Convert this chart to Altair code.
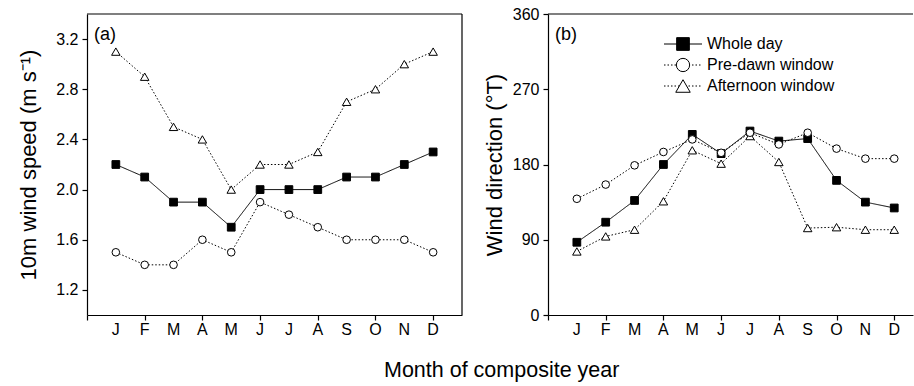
import altair as alt
import pandas as pd

months = list(range(1, 13))
month_letters = ["J", "F", "M", "A", "M", "J", "J", "A", "S", "O", "N", "D"]
series_names = ["Whole day", "Pre-dawn window", "Afternoon window"]
panel_labels = ["(a)", "(b)"]

speed_whole = [2.2, 2.1, 1.9, 1.9, 1.7, 2.0, 2.0, 2.0, 2.1, 2.1, 2.2, 2.3]
speed_predawn = [1.5, 1.4, 1.4, 1.6, 1.5, 1.9, 1.8, 1.7, 1.6, 1.6, 1.6, 1.5]
speed_afternoon = [3.1, 2.9, 2.5, 2.4, 2.0, 2.2, 2.2, 2.3, 2.7, 2.8, 3.0, 3.1]

dir_whole = [87, 111, 137, 180, 216, 193, 220, 208, 211, 161, 135, 128]
dir_predawn = [139, 156, 179, 195, 210, 194, 218, 204, 218, 199, 187, 187]
dir_afternoon = [76, 94, 102, 136, 197, 181, 214, 183, 104, 105, 102, 102]

speed_ticks = [1.2, 1.4, 1.6, 1.8, 2.0, 2.2, 2.4, 2.6, 2.8, 3.0, 3.2]
dir_ticks = [0, 45, 90, 135, 180, 225, 270, 315, 360]

FONT = "Liberation Sans"
PLOT_H = 301


def long_df(whole, predawn, afternoon):
    rows = []
    for name, vals in zip(series_names, [whole, predawn, afternoon]):
        for m, v in zip(months, vals):
            rows.append({"month": m, "series": name, "value": v})
    return pd.DataFrame(rows)


speed_df = long_df(speed_whole, speed_predawn, speed_afternoon)
dir_df = long_df(dir_whole, dir_predawn, dir_afternoon)
month_df = pd.DataFrame({"month": months, "letter": month_letters})

DOTTED = [1.5, 2]
point_styles = {
    "Whole day": dict(shape="square", fill="black", size=60, dash=[1, 0], lsize=161),
    "Pre-dawn window": dict(shape="circle", fill="white", size=58, dash=DOTTED, lsize=177),
    "Afternoon window": dict(shape="triangle-up", fill="white", size=72, dash=DOTTED, lsize=210),
}


def legend_layers():
    out = []
    for i, name in enumerate(series_names):
        st = point_styles[name]
        row = alt.Chart(pd.DataFrame({"series": [name]}))
        yy = 30 + 21 * i
        out.append(row.mark_rule(color="black", strokeWidth=1, strokeDash=st["dash"]).encode(
            x=alt.value(116), x2=alt.value(154), y=alt.value(yy)))
        out.append(row.mark_point(shape=st["shape"], fill=st["fill"], size=st["lsize"],
                                  stroke="black", strokeWidth=1, opacity=1, filled=True).encode(
            x=alt.value(135), y=alt.value(yy)))
        out.append(row.mark_text(font=FONT, fontSize=16, align="left", baseline="middle",
                                 color="black").encode(
            text="series:N", x=alt.value(159), y=alt.value(yy)))
    return out


def panel(df, ydom, yticks, major_test, fmt, ytitle, title_pad, width, xmax, xticks,
          label, with_legend=False, right_frame=True):
    xscale = alt.Scale(domain=[0, xmax], nice=False, zero=False)
    x = alt.X("month:Q", scale=xscale,
              axis=alt.Axis(values=xticks, labels=False, title=None, tickSize=5))
    y = alt.Y("value:Q",
              scale=alt.Scale(domain=ydom, nice=False, zero=False),
              axis=alt.Axis(values=yticks, format=fmt, title=ytitle,
                            labelExpr="%s ? format(datum.value, '%s') : ''" % (major_test, fmt),
                            tickSize={"condition": {"test": major_test, "value": 5}, "value": 3},
                            labelPadding=4, titlePadding=title_pad, labelOverlap=False,
                            labelFlush=False))
    base = alt.Chart(df).encode(x=x, y=y)
    lines = base.mark_line(color="black", strokeWidth=1).encode(
        strokeDash=alt.StrokeDash("series:N",
                                  scale=alt.Scale(domain=series_names,
                                                  range=[point_styles[s]["dash"] for s in series_names]),
                                  legend=None),
        detail="series:N")
    layers = [lines]
    for name in ["Afternoon window", "Whole day", "Pre-dawn window"]:
        st = point_styles[name]
        layers.append(
            base.transform_filter(alt.datum.series == name).mark_point(
                shape=st["shape"], fill=st["fill"], size=st["size"],
                stroke="black", strokeWidth=1, opacity=1, filled=True))
    # month letters under the x axis
    layers.append(alt.Chart(month_df).mark_text(
        font=FONT, fontSize=16, align="center", baseline="middle", color="black").encode(
        x=alt.X("month:Q", scale=xscale), y=alt.value(PLOT_H + 15), text="letter:N"))
    one = alt.Chart(pd.DataFrame({"label": [label]}))
    layers.append(one.mark_rule(color="black", strokeWidth=1.2).encode(
        x=alt.datum(0), x2=alt.datum(xmax), y=alt.datum(ydom[1])))
    if right_frame:
        layers.append(one.mark_rule(color="black", strokeWidth=1.2).encode(
            x=alt.datum(xmax), y=alt.datum(ydom[0]), y2=alt.datum(ydom[1])))
    layers.append(one.mark_text(font=FONT, fontSize=18, align="left",
                                baseline="middle", color="black").encode(
        text="label:N", x=alt.value(7), y=alt.value(21)))
    if with_legend:
        layers.extend(legend_layers())
    return alt.layer(*layers).properties(width=width, height=PLOT_H)


pa = panel(speed_df, [1.0, 3.4], speed_ticks, "round(datum.value*10) % 4 == 0",
           ".1f", "10m wind speed (m s\u207b\u00b9)", 15, 375, 13, list(range(0, 14)),
           panel_labels[0])
pb = panel(dir_df, [0, 360], dir_ticks, "datum.value % 90 == 0",
           "d", "Wind direction (\u00b0T)", 6, 365, 12.65, list(range(0, 13)),
           panel_labels[1], with_legend=True, right_frame=False)

chart = alt.hconcat(pa, pb, spacing=20).properties(
    title=alt.TitleParams("Month of composite year", orient="bottom",
                          anchor="middle", fontSize=21.5, fontWeight="normal",
                          font=FONT, color="black", offset=22, dx=36),
    padding={"left": 17, "top": 6, "right": 0, "bottom": 0},
    background="white",
).configure_view(stroke=None).configure_axis(
    labelFont=FONT, labelFontSize=16, labelColor="black",
    titleFont=FONT, titleFontSize=22, titleFontWeight="normal", titleColor="black",
    domainColor="black", domainWidth=1.2, tickColor="black", tickWidth=1.2,
    grid=False, labelOverlap=False,
)

chart.save("out.html", embed_options={"renderer": "svg", "actions": False})
